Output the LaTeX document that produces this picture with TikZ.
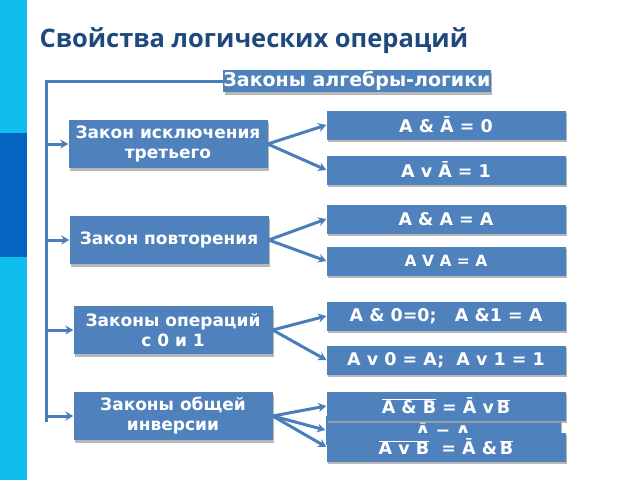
\documentclass[tikz,border=0pt]{standalone}
\usepackage{fontspec}
\setmainfont{DejaVu Sans}
\newfontfamily\headfont{Open Sans}
\usetikzlibrary{arrows.meta,shadows}
\definecolor{boxblue}{RGB}{79,129,189}
\definecolor{linkblue}{RGB}{74,126,187}
\definecolor{headblue}{RGB}{31,73,125}
\definecolor{barcyan}{RGB}{16,190,238}
\definecolor{bardark}{RGB}{5,99,193}
\newcommand{\ovl}[1]{$\overline{\hbox{#1}}$}
\tikzset{
  panel/.style={fill=boxblue, text=white, align=center, inner sep=2pt,
    drop shadow={shadow xshift=1.5pt, shadow yshift=-2.5pt, fill=black!35, opacity=.8}},
  law/.style={panel, font=\bfseries\fontsize{17}{20}\selectfont, minimum width=199pt, minimum height=48pt},
  rule/.style={panel, font=\bfseries\fontsize{17.5}{20}\selectfont, minimum width=239pt, minimum height=29pt},
  conn/.style={linkblue, line width=3pt},
  tip/.style={conn, -{Stealth[length=8pt,width=9pt]}}
}
\begin{document}
\begin{tikzpicture}[x=1pt,y=-1pt]
\useasboundingbox (0,0) rectangle (640,480);
% side bar
\fill[barcyan] (0,0) rectangle (27,133);
\fill[bardark] (0,133) rectangle (27,257);
\fill[barcyan] (0,257) rectangle (27,480);
\node[anchor=base west, text=headblue, font=\headfont\bfseries\fontsize{25.5}{28}\selectfont] (head) at (36,47) {Свойства логических операций};

% laws
\node[panel, font=\bfseries\fontsize{19}{22}\selectfont, minimum width=259pt, minimum height=22pt, inner sep=0pt] (top) at (357,81) {Законы алгебры-логики};
\node[law] (l1) at (168,144) {Закон исключения\\третьего};
\node[law] (l2) at (169,240) {Закон повторения};
\node[law] (l3) at (173,330) {Законы операций\\с 0 и 1};
\node[law] (l4) at (173,416) {Законы общей\\инверсии};

% formulas
\node[rule] (r1) at (446,125) {A \& Ā = 0};
\node[rule] (r2) at (446,170) {A v Ā = 1};
\node[rule] (r3) at (446,219) {A \& A = A};
\node[rule, font=\bfseries\fontsize{15.5}{18}\selectfont] (r4) at (446,261) {A V A = A};
\node[rule] (r5) at (446,316) {A \& 0=0;\ \ \ A \&1 = A};
\node[rule] (r6) at (446,360) {A v 0 = A;\ \ A v 1 = 1};
\node[rule, minimum width=235pt] (r8) at (443,430) {Ā = A};
\node[rule] (r7) at (446,406) {\ovl{A \& B} = Ā v\,\ovl{B}};
\node[rule] (r9) at (446,447) {\ovl{A v B}\ \ = Ā \&\,\ovl{B}};

% links
\coordinate (spine) at (46,422);
\draw[conn] (top.west) -| (spine);
\foreach \l in {l1,l2,l3,l4}
  \draw[tip] (spine |- \l) -- (\l.west);
\draw[tip] (l1.east) -- (r1.west);
\draw[tip] (l1.east) -- (r2.west);
\draw[tip] (l2.east) -- (r3.west);
\draw[tip] (l2.east) -- (r4.west);
\draw[tip] (l3.east) -- (r5.west);
\draw[tip] (l3.east) -- (r6.west);
\draw[tip] (l4.east) -- (r7.west);
\draw[tip] (l4.east) -- (r8.west);
\draw[tip] (l4.east) -- (r9.west);
\end{tikzpicture}
\end{document}
